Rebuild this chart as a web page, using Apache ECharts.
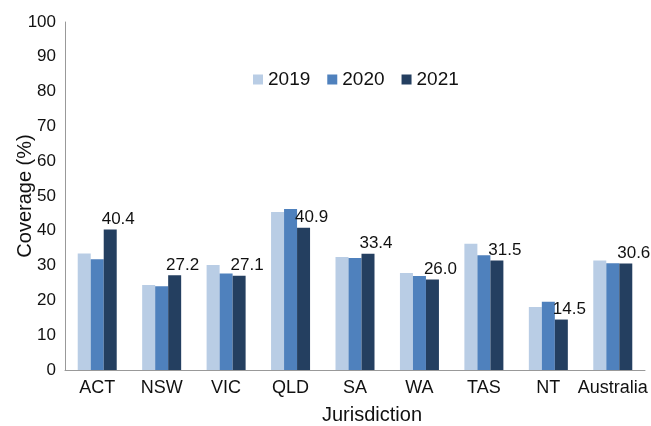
<!DOCTYPE html>
<html>
<head>
<meta charset="utf-8">
<script src="https://cdn.jsdelivr.net/npm/echarts@6/dist/echarts.min.js"></script>
<style>
  html, body { margin: 0; padding: 0; background: #fff; }
  #chart { width: 651px; height: 426px; }
</style>
</head>
<body>
<div id="chart"></div>
<script>
// jurisdictions on the x axis
var categories = ['ACT', 'NSW', 'VIC', 'QLD', 'SA', 'WA', 'TAS', 'NT', 'Australia'];
var seriesNames = ['2019', '2020', '2021'];
// coverage (%) per year
var values2019 = [33.5, 24.4, 30.2, 45.4, 32.5, 27.9, 36.3, 18.1, 31.5];
var values2020 = [31.8, 24.1, 27.7, 46.3, 32.2, 27.0, 33.0, 19.6, 30.7];
var values2021 = [40.4, 27.2, 27.1, 40.9, 33.4, 26.0, 31.5, 14.5, 30.6];
var yTicks = [0, 10, 20, 30, 40, 50, 60, 70, 80, 90, 100];

var colors = ['#b9cde5', '#4f81bd', '#243f60'];
var font = 'Liberation Sans, Arial, Helvetica, sans-serif';

var chart = echarts.init(document.getElementById('chart'));

function barSeries(name, data, idx, withLabel) {
    return {
        name: name,
        type: 'bar',
        data: data,
        barWidth: 13,
        barGap: '0%',
        itemStyle: { color: colors[idx] },
        label: {
            show: withLabel,
            position: 'top',
            distance: 2,
            offset: [8, 0],
            color: '#111',
            fontFamily: font,
            fontSize: 17,
            formatter: function (p) { return p.value.toFixed(1); }
        }
    };
}

chart.setOption({
    animation: false,
    color: colors,
    grid: { left: 65, right: 6, top: 22, bottom: 56, containLabel: false, outerBoundsMode: 'none' },
    legend: {
        data: seriesNames,
        left: 253,
        top: 70,
        padding: 0,
        itemWidth: 10,
        itemHeight: 10,
        itemGap: 17,
        icon: 'rect',
        textStyle: { color: '#111', fontFamily: font, fontSize: 19 }
    },
    xAxis: {
        type: 'category',
        data: categories,
        name: 'Jurisdiction',
        nameLocation: 'middle',
        nameGap: 35,
        nameMoveOverlap: false,
        nameTextStyle: { color: '#111', fontFamily: font, fontSize: 20, padding: [0, 0, 0, 34] },
        axisLine: { lineStyle: { color: '#999', width: 1 } },
        axisTick: { show: false },
        axisLabel: { color: '#111', fontFamily: font, fontSize: 18, margin: 9, interval: 0 }
    },
    yAxis: {
        type: 'value',
        min: yTicks[0],
        max: yTicks[yTicks.length - 1],
        interval: 10,
        name: 'Coverage (%)',
        nameLocation: 'middle',
        nameGap: 30,
        nameMoveOverlap: false,
        nameTextStyle: { color: '#111', fontFamily: font, fontSize: 20 },
        axisLine: { show: true, lineStyle: { color: '#999', width: 1 } },
        axisTick: { show: false },
        splitLine: { show: false },
        axisLabel: { color: '#111', fontFamily: font, fontSize: 17, margin: 9 }
    },
    series: [
        barSeries(seriesNames[0], values2019, 0, false),
        barSeries(seriesNames[1], values2020, 1, false),
        barSeries(seriesNames[2], values2021, 2, true)
    ]
});
</script>
</body>
</html>
